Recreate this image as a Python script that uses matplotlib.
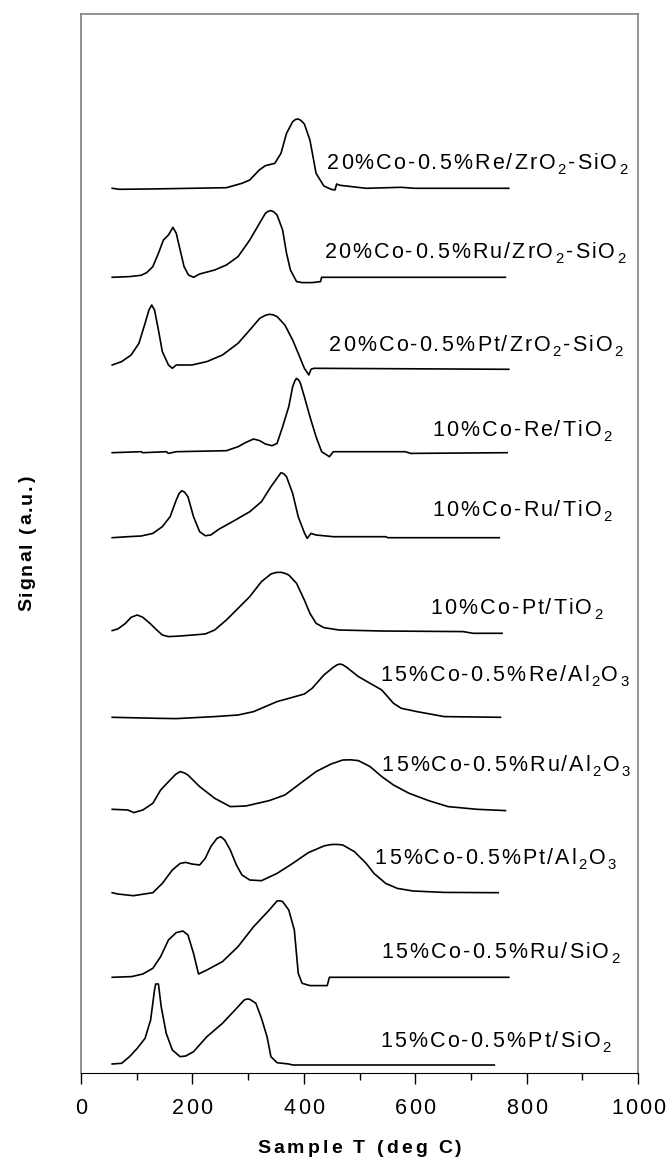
import matplotlib
matplotlib.use('Agg')
import matplotlib.pyplot as plt
from matplotlib import font_manager
from matplotlib.font_manager import FontProperties
from matplotlib.ft2font import FT2Font
from matplotlib.ticker import MultipleLocator
from matplotlib.transforms import ScaledTranslation, blended_transform_factory

plt.rcParams['font.family'] = ['Liberation Sans', 'DejaVu Sans']

# TPR traces, top to bottom: temperature (deg C) and signal above each baseline
t_re_zr = [56, 69, 122, 261, 289, 303, 320, 331, 348, 359, 369, 380, 385, 390, 395, 401, 411, 422, 436, 449, 456, 459, 465, 512, 575, 599, 768]
s_re_zr = [0.7, -0.3, 0, 1.3, 5.7, 9, 19, 23.3, 25.7, 35.7, 55.7, 67.3, 69.5, 70, 68.5, 65, 49, 15.7, 3, -0.3, -1, 5, 3.7, 0.7, 1.7, 0.7, 0.7]

t_ru_zr = [56, 87, 108, 118, 129, 139, 148, 157, 165, 171, 178, 185, 193, 202, 213, 240, 261, 282, 303, 317, 331, 336, 341, 346, 352, 362, 369, 376, 387, 397, 415, 430, 432, 762]
s_ru_zr = [0, 0.7, 2, 4.7, 10.7, 24, 37.3, 42.3, 50, 44, 27.3, 10.7, 2.3, 0, 3.3, 7.3, 12.3, 20.7, 37.3, 50.7, 64, 66, 66.7, 65.5, 62.3, 47.3, 24, 7.3, -4.3, -5.3, -5.3, -4.3, 0, 0]

t_pt_zr = [56, 73, 90, 104, 115, 122, 127, 132, 139, 146, 157, 164, 171, 199, 226, 254, 282, 303, 321, 331, 338, 345, 352, 366, 380, 390, 401, 409, 413, 418, 768]
s_pt_zr = [4.3, 7.7, 14.3, 26, 46, 59.3, 64.3, 59.3, 39.3, 17.7, 4.3, 1, 4.3, 4.3, 7.7, 14.3, 26, 39.3, 51, 54, 55, 54.5, 52.7, 44.3, 29.3, 16, 1, -5.7, 0, 1, 0]

t_re_ti = [56, 108, 111, 153, 157, 171, 261, 282, 296, 310, 321, 331, 343, 352, 362, 373, 380, 384, 387, 391, 394, 401, 411, 422, 432, 446, 453, 582, 592, 765]
s_re_ti = [0, 1, 0, 1, -0.7, 1, 2, 6, 10.3, 13.7, 12, 8.7, 7, 9.3, 26, 46, 66, 72, 74.3, 72.5, 69.3, 56, 36, 16, 1, -4, 1, 1, -0.7, 0]

t_ru_ti = [56, 84, 108, 129, 146, 160, 171, 176, 181, 186, 192, 202, 213, 223, 233, 247, 275, 303, 324, 341, 359, 364, 369, 380, 390, 401, 406, 413, 422, 453, 547, 551, 751]
s_ru_ti = [0, 1, 1.7, 4.3, 11, 21, 37.7, 44, 47, 45.5, 41, 21, 6, 2, 2.7, 8.3, 17, 26, 36, 51, 65, 64, 61, 44.3, 21, 5, -0.7, 4.3, 2.7, 1, 1, 0, 0]

t_pt_ti = [56, 66, 80, 90, 101, 111, 125, 136, 146, 157, 178, 223, 240, 261, 282, 303, 324, 341, 350, 359, 366, 373, 387, 401, 411, 422, 436, 463, 540, 686, 704, 756]
s_pt_ti = [2.7, 4.3, 10, 16, 18.3, 16, 9.3, 3.3, -1.7, -3.3, -2.7, -0.7, 3.3, 13.3, 25, 36.7, 51.7, 59.3, 60.8, 61, 60, 58.3, 50, 33.3, 20, 10, 5.7, 3.3, 2.3, 1.7, 0, 0]

t_re_al = [56, 136, 171, 240, 282, 310, 331, 352, 380, 401, 415, 436, 453, 460, 465, 470, 477, 498, 519, 540, 561, 575, 603, 652, 753]
s_re_al = [0, -1, -1.3, 0.7, 2.3, 5.7, 10.7, 15.7, 20, 23.3, 29, 42.3, 50, 52.5, 53.3, 52.5, 50, 40.7, 34, 27.3, 14, 9, 5.7, 0.7, 0]

t_ru_al = [56, 84, 95, 111, 129, 143, 160, 170, 178, 185, 192, 213, 240, 268, 296, 338, 366, 394, 422, 449, 470, 484, 498, 519, 540, 561, 589, 624, 659, 711, 762]
s_ru_al = [0, -0.7, -3.3, -0.7, 6, 19.3, 29.3, 35, 37.7, 36.5, 34.3, 22.7, 11, 2.7, 3.3, 8.7, 14.3, 26, 37.7, 45.3, 49.3, 49.5, 48.7, 42.7, 32.7, 24.3, 16, 8.7, 2.7, 0, -1.3]

t_pt_al = [56, 66, 94, 129, 146, 164, 178, 188, 199, 213, 223, 233, 244, 251, 258, 268, 279, 289, 303, 324, 352, 380, 408, 436, 445, 453, 462, 470, 491, 512, 526, 547, 568, 596, 652, 749]
s_pt_al = [0, -1.3, -3, 0, 9.3, 22.7, 29.3, 30.3, 28.7, 27.7, 34.3, 46, 54.3, 56, 52.7, 42.7, 27.7, 17.7, 12.7, 12, 19.3, 29.3, 40, 46.7, 47.8, 48.3, 48.2, 47.7, 41, 29.3, 19.3, 9.3, 4.3, 1.7, 0.3, 0]

t_ru_si = [56, 91, 111, 129, 143, 157, 171, 183, 192, 202, 211, 226, 254, 282, 310, 338, 352, 357, 362, 373, 383, 390, 397, 411, 442, 446, 768]
s_ru_si = [0, 0.7, 3.3, 9, 20.7, 37.3, 44.7, 46.3, 42.3, 24, 3.3, 7.3, 15.7, 30.7, 50.7, 67.3, 76.3, 76.5, 75.7, 67.3, 47.3, 4, -6, -8.3, -8.3, 0, 0]

t_pt_si = [56, 73, 87, 101, 115, 125, 132, 134, 139, 144, 153, 164, 178, 188, 202, 226, 254, 282, 293, 298, 303, 314, 324, 334, 341, 352, 373, 380, 742]
s_pt_si = [0, 0.7, 7.3, 15.7, 25.7, 44, 74, 80, 80, 57.3, 30.7, 14, 7.3, 8, 12.3, 27.3, 40.7, 57.3, 64, 65, 64.7, 60.7, 45.7, 27.3, 7.3, 1.3, 0, -1, -1]

temps = [t_re_zr, t_ru_zr, t_pt_zr, t_re_ti, t_ru_ti, t_pt_ti, t_re_al, t_ru_al, t_pt_al, t_ru_si, t_pt_si]
signals = [s_re_zr, s_ru_zr, s_pt_zr, s_re_ti, s_ru_ti, s_pt_ti, s_re_al, s_ru_al, s_pt_al, s_ru_si, s_pt_si]
baselines = [884, 795.7, 703.7, 620.3, 535.3, 439.7, 355.7, 263.7, 180.3, 95.7, 9]

# "_" marks the next character as a subscript
labels = ['20%Co-0.5%Re/ZrO_2-SiO_2', '20%Co-0.5%Ru/ZrO_2-SiO_2', '20%Co-0.5%Pt/ZrO_2-SiO_2',
          '10%Co-Re/TiO_2', '10%Co-Ru/TiO_2', '10%Co-Pt/TiO_2',
          '15%Co-0.5%Re/Al_2O_3', '15%Co-0.5%Ru/Al_2O_3', '15%Co-0.5%Pt/Al_2O_3',
          '15%Co-0.5%Ru/SiO_2', '15%Co-0.5%Pt/SiO_2']
label_x = [711, 707, 709, 792, 792, 782, 760, 763, 744, 753, 744]
label_y = [904, 815, 722, 637, 557, 459, 392, 302, 209, 115, 26]

tick_vals = [0, 200, 400, 600, 800, 1000]

fig = plt.figure(figsize=(6.68, 11.64), dpi=100)
ax = fig.add_axes([81 / 668, 91 / 1164, 557 / 668, 1059 / 1164])

_fonts = {}


def advance(ch, size, bold):
    if bold not in _fonts:
        fp = FontProperties(family='Liberation Sans', weight='bold' if bold else 'normal')
        _fonts[bold] = FT2Font(font_manager.findfont(fp))
    f = _fonts[bold]
    f.set_size(size, 72)
    g = f.load_char(ord(ch))
    return g.linearHoriAdvance / 65536


def spaced_text(x, y, s, size, spacing, transform, bold=False, rot=0, dx=0, dy=0):
    # Excel-style text with extra gap between letters, centred on (x, y)
    items = []
    i = 0
    while i < len(s):
        if s[i] == '_':
            items.append((s[i + 1], True))
            i += 2
        else:
            items.append((s[i], False))
            i += 1
    widths = [advance(c, size * (0.69 if sub else 1), bold) for c, sub in items]
    total = sum(widths) + spacing * (len(items) - 1)
    pos = -total / 2
    for (c, sub), w in zip(items, widths):
        shift = -0.25 * size if sub else 0
        if rot == 0:
            off = ScaledTranslation((pos + dx) / 72, (shift + dy) / 72, fig.dpi_scale_trans)
        else:
            off = ScaledTranslation((dx - shift) / 72, (pos + dy) / 72, fig.dpi_scale_trans)
        ax.text(x, y, c, fontsize=size * (0.69 if sub else 1), transform=transform + off,
                ha='left', va='baseline', rotation=rot, rotation_mode='anchor',
                fontweight='bold' if bold else 'normal', clip_on=False)
        pos += w + spacing


for t, s, b in zip(temps, signals, baselines):
    ax.plot(t, [b + v for v in s], color='black', lw=1.2)

for lab, x, y in zip(labels, label_x, label_y):
    spaced_text(x, y, lab, 15.5, 1.5, ax.transData)

ax.set_xlim(0, 1000)
ax.set_ylim(0, 1059)
ax.xaxis.set_major_locator(MultipleLocator(200))
ax.xaxis.set_minor_locator(MultipleLocator(100))
ax.tick_params(axis='x', which='major', length=8, width=1, labelbottom=False)
ax.tick_params(axis='x', which='minor', length=5, width=1)
ax.set_yticks([])

xt = blended_transform_factory(ax.transData, ax.transAxes)
for v in tick_vals:
    spaced_text(v, 0, str(v), 15.5, 1.5, xt, dy=-29.5)

for side in ['top', 'right', 'left']:
    ax.spines[side].set_color('#808080')
    ax.spines[side].set_linewidth(1.2)
ax.spines['bottom'].set_color('black')

spaced_text(0.5, 0, 'Sample T (deg C)', 14, 2.2, ax.transAxes, bold=True, dy=-57.6)
spaced_text(0, 0.5, 'Signal (a.u.)', 14, 1.5, ax.transAxes, bold=True, rot=90, dx=-35.5)

fig.savefig('out.png', dpi=100)
